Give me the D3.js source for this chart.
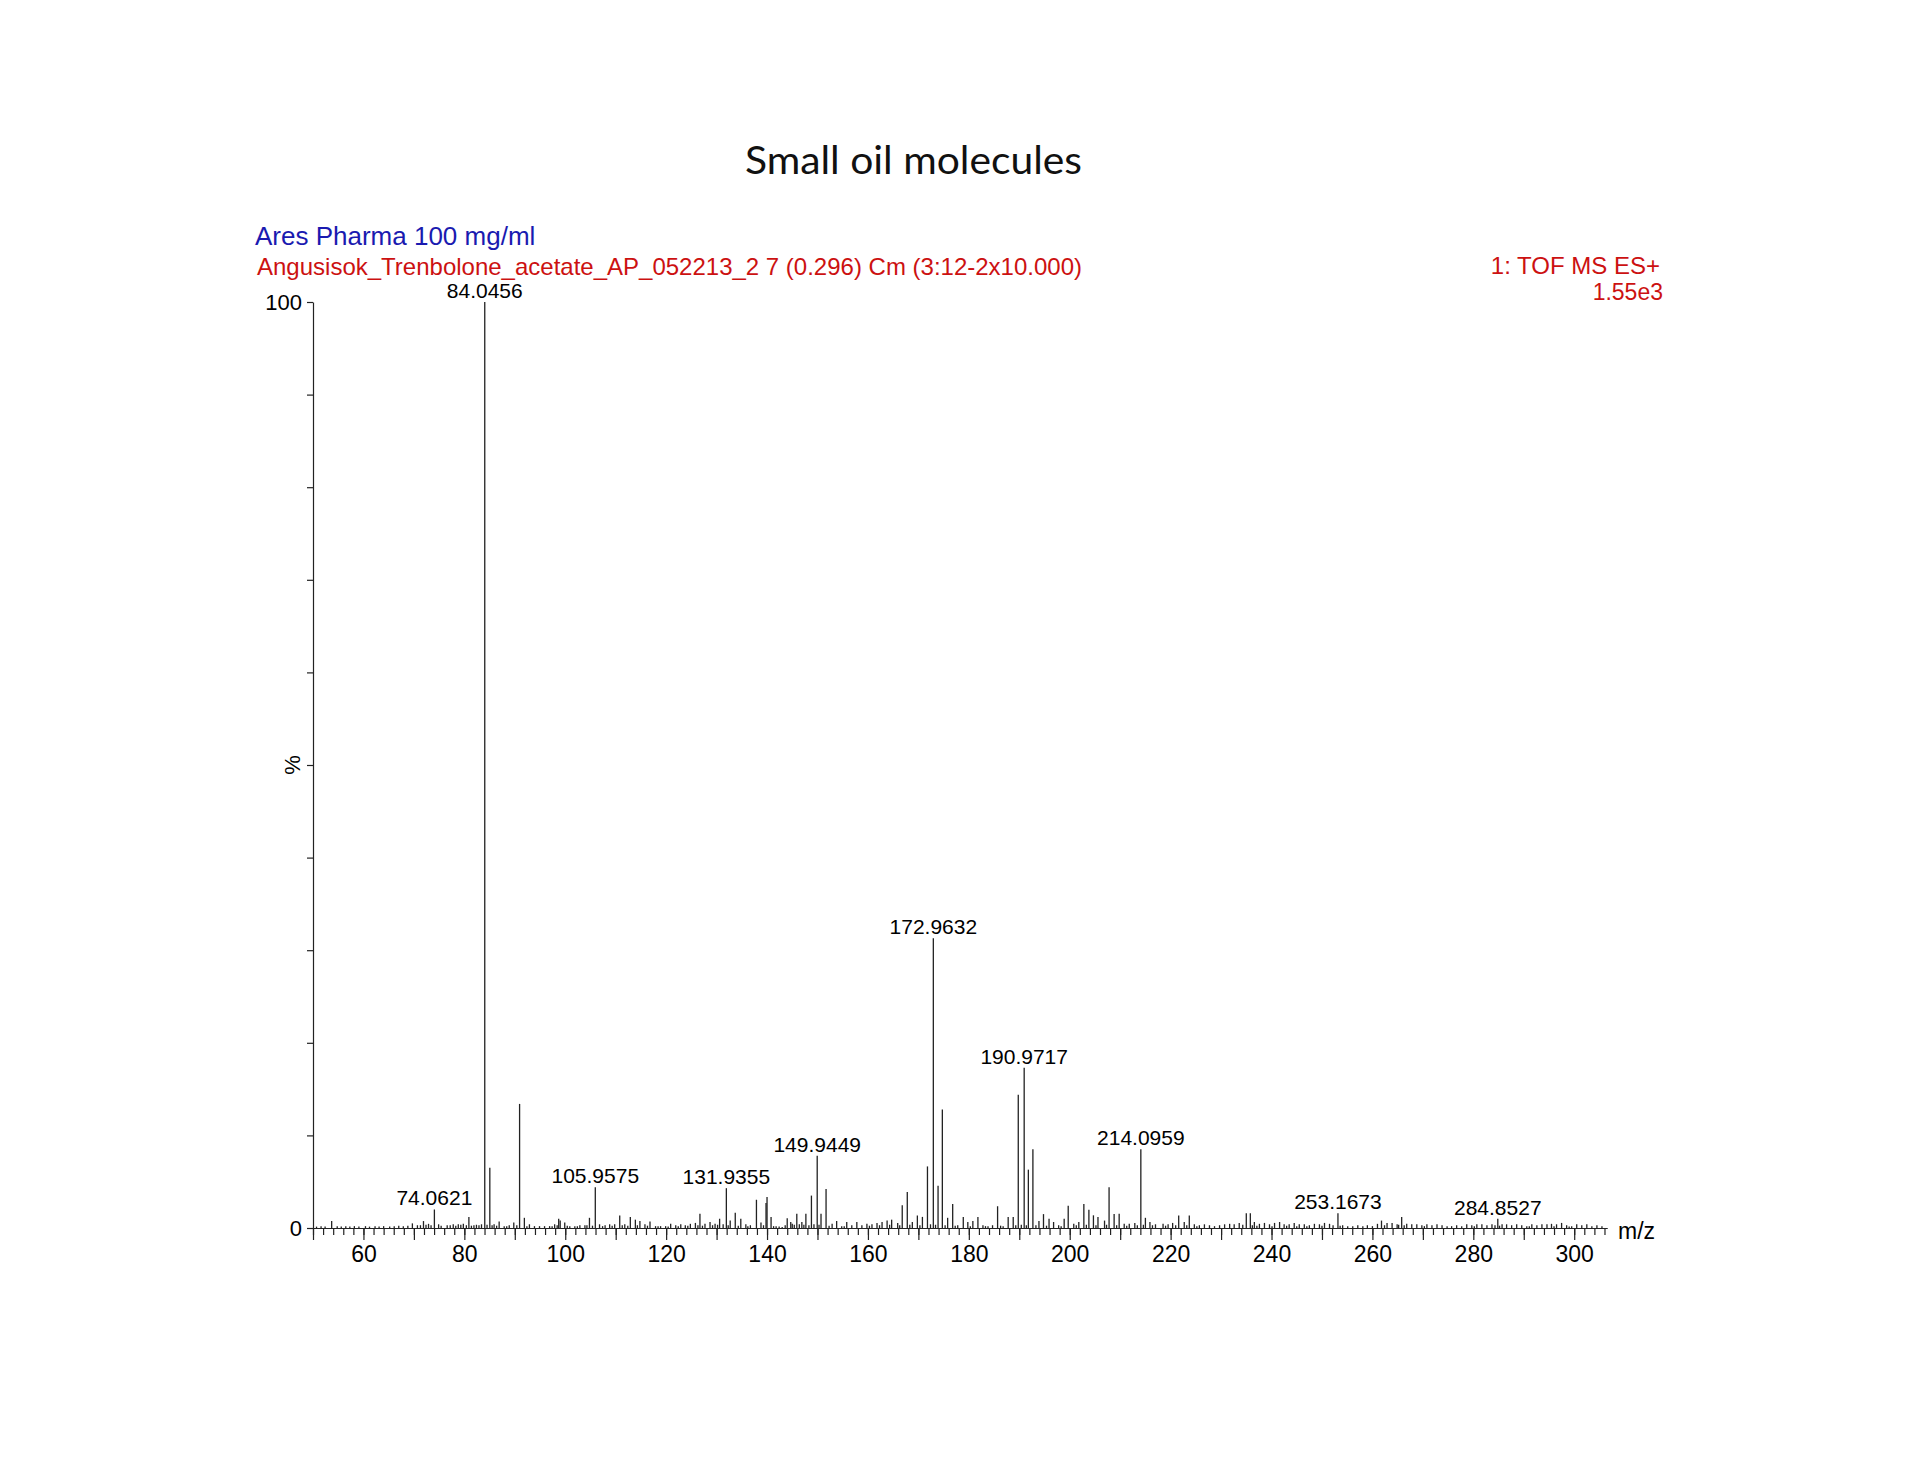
<!DOCTYPE html>
<html>
<head>
<meta charset="utf-8">
<script src="https://cdn.jsdelivr.net/npm/d3@7"></script>
<style>
  body { margin: 0; background: #fff; }
  svg { display: block; }
</style>
</head>
<body>
<div id="chart"></div>
<script>
const width = 1920;
const height = 1484;

// labelled peaks: [m/z, % intensity]
const labelledPeaks = [
    [74.0621, 2.0], [84.0456, 100], [105.9575, 4.4], [131.9355, 4.3],
    [149.9449, 7.8], [172.9632, 31.3], [190.9717, 17.3], [214.0959, 8.5],
    [253.1673, 1.6], [284.8527, 1.0]
];

// other visible peaks
const otherPeaks = [
    [53.7, 0.75], [69.7, 0.5], [70.7, 0.3], [71.9, 0.75], [72.9, 0.45], [74.9, 0.4],
    [76.6, 0.3], [77.8, 0.4], [78.8, 0.4], [79.8, 0.45], [80.9, 1.2], [81.9, 0.3],
    [82.9, 0.3], [85.05, 6.5], [85.9, 0.4], [86.9, 0.7], [87.9, 0.2], [88.9, 0.3],
    [89.8, 0.6], [90.95, 13.4], [91.9, 1.1], [92.9, 0.4], [93.9, 0.2], [94.9, 0.2],
    [95.9, 0.2], [96.9, 0.2], [97.9, 0.4], [98.7, 1.0], [99.0, 0.8], [99.9, 0.6],
    [100.9, 0.2], [101.9, 0.2], [102.9, 0.3], [103.9, 0.3], [104.8, 1.1], [106.8, 0.4],
    [107.9, 0.3], [108.8, 0.4], [109.8, 0.4], [110.8, 1.35], [111.8, 0.4], [112.9, 1.2],
    [113.9, 0.9], [114.8, 0.75], [115.8, 0.4], [116.8, 0.7], [117.9, 0.2], [118.9, 0.2],
    [119.9, 0.2], [120.9, 0.45], [121.9, 0.3], [122.9, 0.4], [123.8, 0.3], [124.8, 0.45],
    [125.8, 0.55], [126.7, 1.55], [127.7, 0.45], [128.7, 0.65], [129.7, 0.45], [130.6, 1.0],
    [132.7, 0.8], [133.7, 1.65], [134.8, 1.0], [135.8, 0.4], [136.7, 0.3], [137.9, 3.05],
    [138.8, 0.6], [139.8, 2.7], [140.0, 3.35], [140.8, 1.2], [141.8, 0.2], [143.0, 0.1],
    [144.0, 1.05], [144.7, 0.65], [145.0, 0.45], [145.9, 1.55], [146.9, 0.65], [147.7, 1.55],
    [148.8, 3.5], [150.7, 1.55], [151.7, 4.2], [152.9, 0.45], [153.8, 0.75], [154.8, 0.2],
    [155.8, 0.65], [156.8, 0.3], [157.8, 0.65], [158.8, 0.3], [159.8, 0.45], [160.8, 0.4],
    [161.8, 0.55], [162.8, 0.65], [163.8, 0.8], [164.7, 0.9], [165.9, 0.55], [166.8, 2.45],
    [167.8, 3.9], [168.8, 0.65], [169.8, 1.35], [170.8, 1.2], [171.8, 6.65], [173.9, 4.55],
    [174.75, 12.8], [175.8, 1.1], [176.8, 2.6], [177.8, 0.3], [178.9, 1.2], [179.8, 0.65],
    [180.8, 0.75], [181.8, 1.2], [182.8, 0.3], [183.8, 0.2], [184.7, 0.3], [185.7, 2.35],
    [186.8, 0.2], [187.8, 1.2], [188.8, 1.2], [189.8, 14.4], [191.8, 6.3], [192.7, 8.5],
    [193.9, 0.75], [194.8, 1.5], [195.9, 1.0], [196.8, 0.65], [197.8, 0.3], [198.9, 1.0],
    [199.7, 2.4], [200.8, 0.45], [201.8, 0.65], [202.8, 2.6], [203.8, 1.98], [204.7, 1.37],
    [205.6, 1.2], [206.9, 0.8], [207.8, 4.4], [208.8, 1.5], [209.8, 1.55], [210.8, 0.45],
    [211.8, 0.45], [212.9, 0.55], [215.0, 1.1], [215.9, 0.65], [217.0, 0.4], [218.5, 0.45],
    [219.5, 0.4], [220.4, 0.55], [221.6, 1.35], [222.7, 0.65], [223.7, 1.35], [224.7, 0.4],
    [225.7, 0.3], [226.7, 0.4], [227.7, 0.3], [228.7, 0.2], [229.7, 0.3], [230.7, 0.4],
    [231.7, 0.45], [232.6, 0.4], [233.6, 0.55], [235.0, 1.6], [235.8, 1.6], [236.6, 0.65],
    [237.6, 0.45], [238.6, 0.55], [239.6, 0.4], [240.6, 0.55], [241.6, 0.65], [242.5, 0.4],
    [243.5, 0.4], [244.5, 0.55], [245.5, 0.4], [246.5, 0.4], [247.5, 0.3], [248.5, 0.45],
    [249.5, 0.4], [250.5, 0.55], [251.5, 0.45], [254.1, 0.3], [255.1, 0.2], [256.1, 0.2],
    [257.1, 0.3], [258.1, 0.2], [259.0, 0.3], [260.0, 0.2], [261.0, 0.45], [261.8, 0.8],
    [262.9, 0.55], [263.9, 0.55], [264.9, 0.4], [265.8, 1.2], [266.8, 0.45], [267.8, 0.4],
    [268.8, 0.4], [269.8, 0.3], [270.8, 0.4], [271.8, 0.3], [272.8, 0.4], [273.8, 0.3],
    [274.8, 0.2], [275.7, 0.2], [276.7, 0.3], [277.7, 0.2], [278.7, 0.4], [279.7, 0.3],
    [280.7, 0.4], [281.7, 0.4], [282.7, 0.3], [283.7, 0.4], [285.7, 0.4], [286.6, 0.4],
    [287.6, 0.3], [288.6, 0.4], [289.6, 0.3], [290.6, 0.2], [291.6, 0.4], [292.6, 0.3],
    [293.6, 0.4], [294.6, 0.4], [295.5, 0.45], [296.5, 0.4], [297.5, 0.55], [298.5, 0.3],
    [299.5, 0.2], [300.5, 0.4], [301.5, 0.3], [302.5, 0.4], [303.5, 0.2], [304.5, 0.3],
    [305.5, 0.2]
];

// baseline grass between the peaks
const noisePeaks = [
    [50.7, 0.15], [51.6, 0.2], [52.4, 0.15], [54.8, 0.2], [55.6, 0.15], [56.5, 0.2],
    [57.3, 0.15], [58.2, 0.2], [59.1, 0.15], [60.4, 0.2], [61.2, 0.15], [62.3, 0.2],
    [63.1, 0.15], [64.0, 0.2], [65.2, 0.15], [66.1, 0.2], [67.0, 0.25], [67.9, 0.2],
    [68.8, 0.25], [71.3, 0.3], [72.4, 0.35], [73.4, 0.3], [75.4, 0.25], [77.2, 0.3],
    [78.3, 0.25], [79.3, 0.35], [80.4, 0.3], [81.4, 0.25], [82.4, 0.35], [83.4, 0.4],
    [84.5, 0.35], [85.5, 0.3], [86.4, 0.25], [88.4, 0.2], [90.4, 0.3], [92.4, 0.2],
    [97.4, 0.2], [98.4, 0.3], [100.4, 0.25], [102.4, 0.2], [104.3, 0.3], [105.4, 0.25],
    [107.4, 0.2], [109.3, 0.25], [111.3, 0.3], [112.4, 0.25], [114.3, 0.3], [116.3, 0.25],
    [118.4, 0.2], [120.4, 0.15], [122.4, 0.2], [124.3, 0.25], [126.3, 0.3], [127.2, 0.25],
    [129.2, 0.3], [130.2, 0.35], [131.3, 0.4], [132.3, 0.3], [134.3, 0.25], [136.2, 0.2],
    [139.3, 0.3], [141.3, 0.2], [142.4, 0.15], [143.6, 0.3], [145.4, 0.35], [146.4, 0.4],
    [147.3, 0.35], [148.3, 0.3], [149.3, 0.4], [150.3, 0.35], [152.3, 0.25], [155.3, 0.2],
    [160.3, 0.25], [162.3, 0.3], [164.3, 0.35], [166.3, 0.3], [168.3, 0.35], [170.3, 0.3],
    [172.4, 0.4], [173.4, 0.35], [175.3, 0.3], [177.3, 0.25], [180.3, 0.2], [183.3, 0.2],
    [186.3, 0.25], [189.3, 0.3], [190.4, 0.35], [191.4, 0.3], [193.3, 0.3], [195.4, 0.25],
    [198.3, 0.2], [201.3, 0.3], [203.3, 0.35], [205.2, 0.3], [207.3, 0.35], [209.3, 0.3],
    [211.3, 0.25], [213.4, 0.3], [214.6, 0.35], [216.4, 0.3], [219.0, 0.25], [221.0, 0.3],
    [223.2, 0.3], [225.2, 0.2], [234.3, 0.35], [236.2, 0.3], [237.1, 0.25], [240.1, 0.2],
    [243.0, 0.25], [245.0, 0.2], [247.0, 0.2], [250.0, 0.25], [252.2, 0.3], [253.6, 0.25],
    [262.4, 0.3], [265.2, 0.35], [266.3, 0.3], [270.3, 0.2], [280.2, 0.2], [284.3, 0.3],
    [285.2, 0.25], [291.1, 0.2], [296.0, 0.2], [299.0, 0.15]
];

const xLabelTicks = [60, 80, 100, 120, 140, 160, 180, 200, 220, 240, 260, 280, 300];
const yTicks = [0, 10, 20, 30, 40, 50, 60, 70, 80, 90, 100];
const yLabelTicks = [0, 100];

const titleText = "Small oil molecules";
const sampleText = "Ares Pharma 100 mg/ml";
const fileText = "Angusisok_Trenbolone_acetate_AP_052213_2 7 (0.296) Cm (3:12-2x10.000)";
const scanText = "1: TOF MS ES+";
const scaleText = "1.55e3";

const sans = "'Liberation Sans', Arial, Helvetica, sans-serif";
const ink = "#222";

const svg = d3.select("#chart")
    .append("svg")
    .attr("width", width)
    .attr("height", height)
    .style("background", "#fff");

const xScale = d3.scaleLinear()
    .domain([50, 306.5])
    .range([313, 1607]);

const yScale = d3.scaleLinear()
    .domain([0, 100])
    .range([1228, 302]);

// header texts
svg.append("text")
    .attr("x", 745)
    .attr("y", 174)
    .attr("font-family", "Lato, 'Open Sans', sans-serif")
    .attr("font-size", 38)
    .attr("textLength", 337)
    .attr("lengthAdjust", "spacingAndGlyphs")
    .attr("fill", "#111")
    .text(titleText);

svg.append("text")
    .attr("x", 255)
    .attr("y", 245)
    .attr("font-family", sans)
    .attr("font-size", 26)
    .attr("fill", "#1a1ab0")
    .text(sampleText);

svg.append("text")
    .attr("x", 257)
    .attr("y", 275)
    .attr("font-family", sans)
    .attr("font-size", 24)
    .attr("fill", "#cc1111")
    .text(fileText);

svg.append("text")
    .attr("x", 1660)
    .attr("y", 274)
    .attr("text-anchor", "end")
    .attr("font-family", sans)
    .attr("font-size", 24)
    .attr("fill", "#cc1111")
    .text(scanText);

svg.append("text")
    .attr("x", 1663)
    .attr("y", 300)
    .attr("text-anchor", "end")
    .attr("font-family", sans)
    .attr("font-size", 23)
    .attr("fill", "#cc1111")
    .text(scaleText);

// x axis: minor ticks every 2, major every 10, labels every 20
const xMinor = d3.axisBottom(xScale)
    .tickValues(d3.range(50, 307, 2))
    .tickSize(7)
    .tickSizeOuter(0)
    .tickFormat("");

const xMajor = d3.axisBottom(xScale)
    .tickValues(d3.range(50, 301, 10))
    .tickSize(12)
    .tickSizeOuter(0)
    .tickFormat(d => xLabelTicks.includes(d) ? d : "")
    .tickPadding(6);

svg.append("g")
    .attr("class", "x-minor")
    .attr("transform", `translate(0,${yScale(0)})`)
    .call(xMinor);

svg.append("g")
    .attr("class", "x-major")
    .attr("transform", `translate(0,${yScale(0)})`)
    .call(xMajor);

svg.selectAll(".x-minor path, .x-minor line, .x-major path, .x-major line")
    .attr("stroke", ink)
    .attr("stroke-width", 1.2);

svg.selectAll(".x-major text")
    .attr("font-family", sans)
    .attr("font-size", 23)
    .attr("fill", "#000");

// y axis
const yAxis = d3.axisLeft(yScale)
    .tickValues(yTicks)
    .tickSize(6)
    .tickSizeOuter(0)
    .tickPadding(5)
    .tickFormat(d => yLabelTicks.includes(d) ? d : "");

svg.append("g")
    .attr("class", "y-axis")
    .attr("transform", `translate(${xScale(50)},0)`)
    .call(yAxis);

svg.selectAll(".y-axis path, .y-axis line")
    .attr("stroke", ink)
    .attr("stroke-width", 1.2);

svg.selectAll(".y-axis text")
    .attr("font-family", sans)
    .attr("font-size", 22)
    .attr("fill", "#000");

svg.append("text")
    .attr("transform", `translate(300,${yScale(50)}) rotate(-90)`)
    .attr("text-anchor", "middle")
    .attr("font-family", sans)
    .attr("font-size", 22)
    .attr("fill", "#000")
    .text("%");

svg.append("text")
    .attr("x", 1618)
    .attr("y", 1239)
    .attr("font-family", sans)
    .attr("font-size", 23)
    .attr("fill", "#000")
    .text("m/z");

// spectrum sticks
const allPeaks = noisePeaks.concat(otherPeaks, labelledPeaks);

svg.append("g")
    .attr("class", "peaks")
    .selectAll("line")
    .data(allPeaks)
    .enter()
    .append("line")
    .attr("x1", d => xScale(d[0]))
    .attr("x2", d => xScale(d[0]))
    .attr("y1", yScale(0))
    .attr("y2", d => yScale(d[1]))
    .attr("stroke", ink)
    .attr("stroke-width", 1.3);

svg.append("g")
    .attr("class", "peak-labels")
    .selectAll("text")
    .data(labelledPeaks)
    .enter()
    .append("text")
    .attr("x", d => xScale(d[0]))
    .attr("y", d => yScale(d[1]) - 4)
    .attr("text-anchor", "middle")
    .attr("font-family", sans)
    .attr("font-size", 21)
    .attr("fill", "#000")
    .text(d => d[0].toFixed(4));
</script>
</body>
</html>
